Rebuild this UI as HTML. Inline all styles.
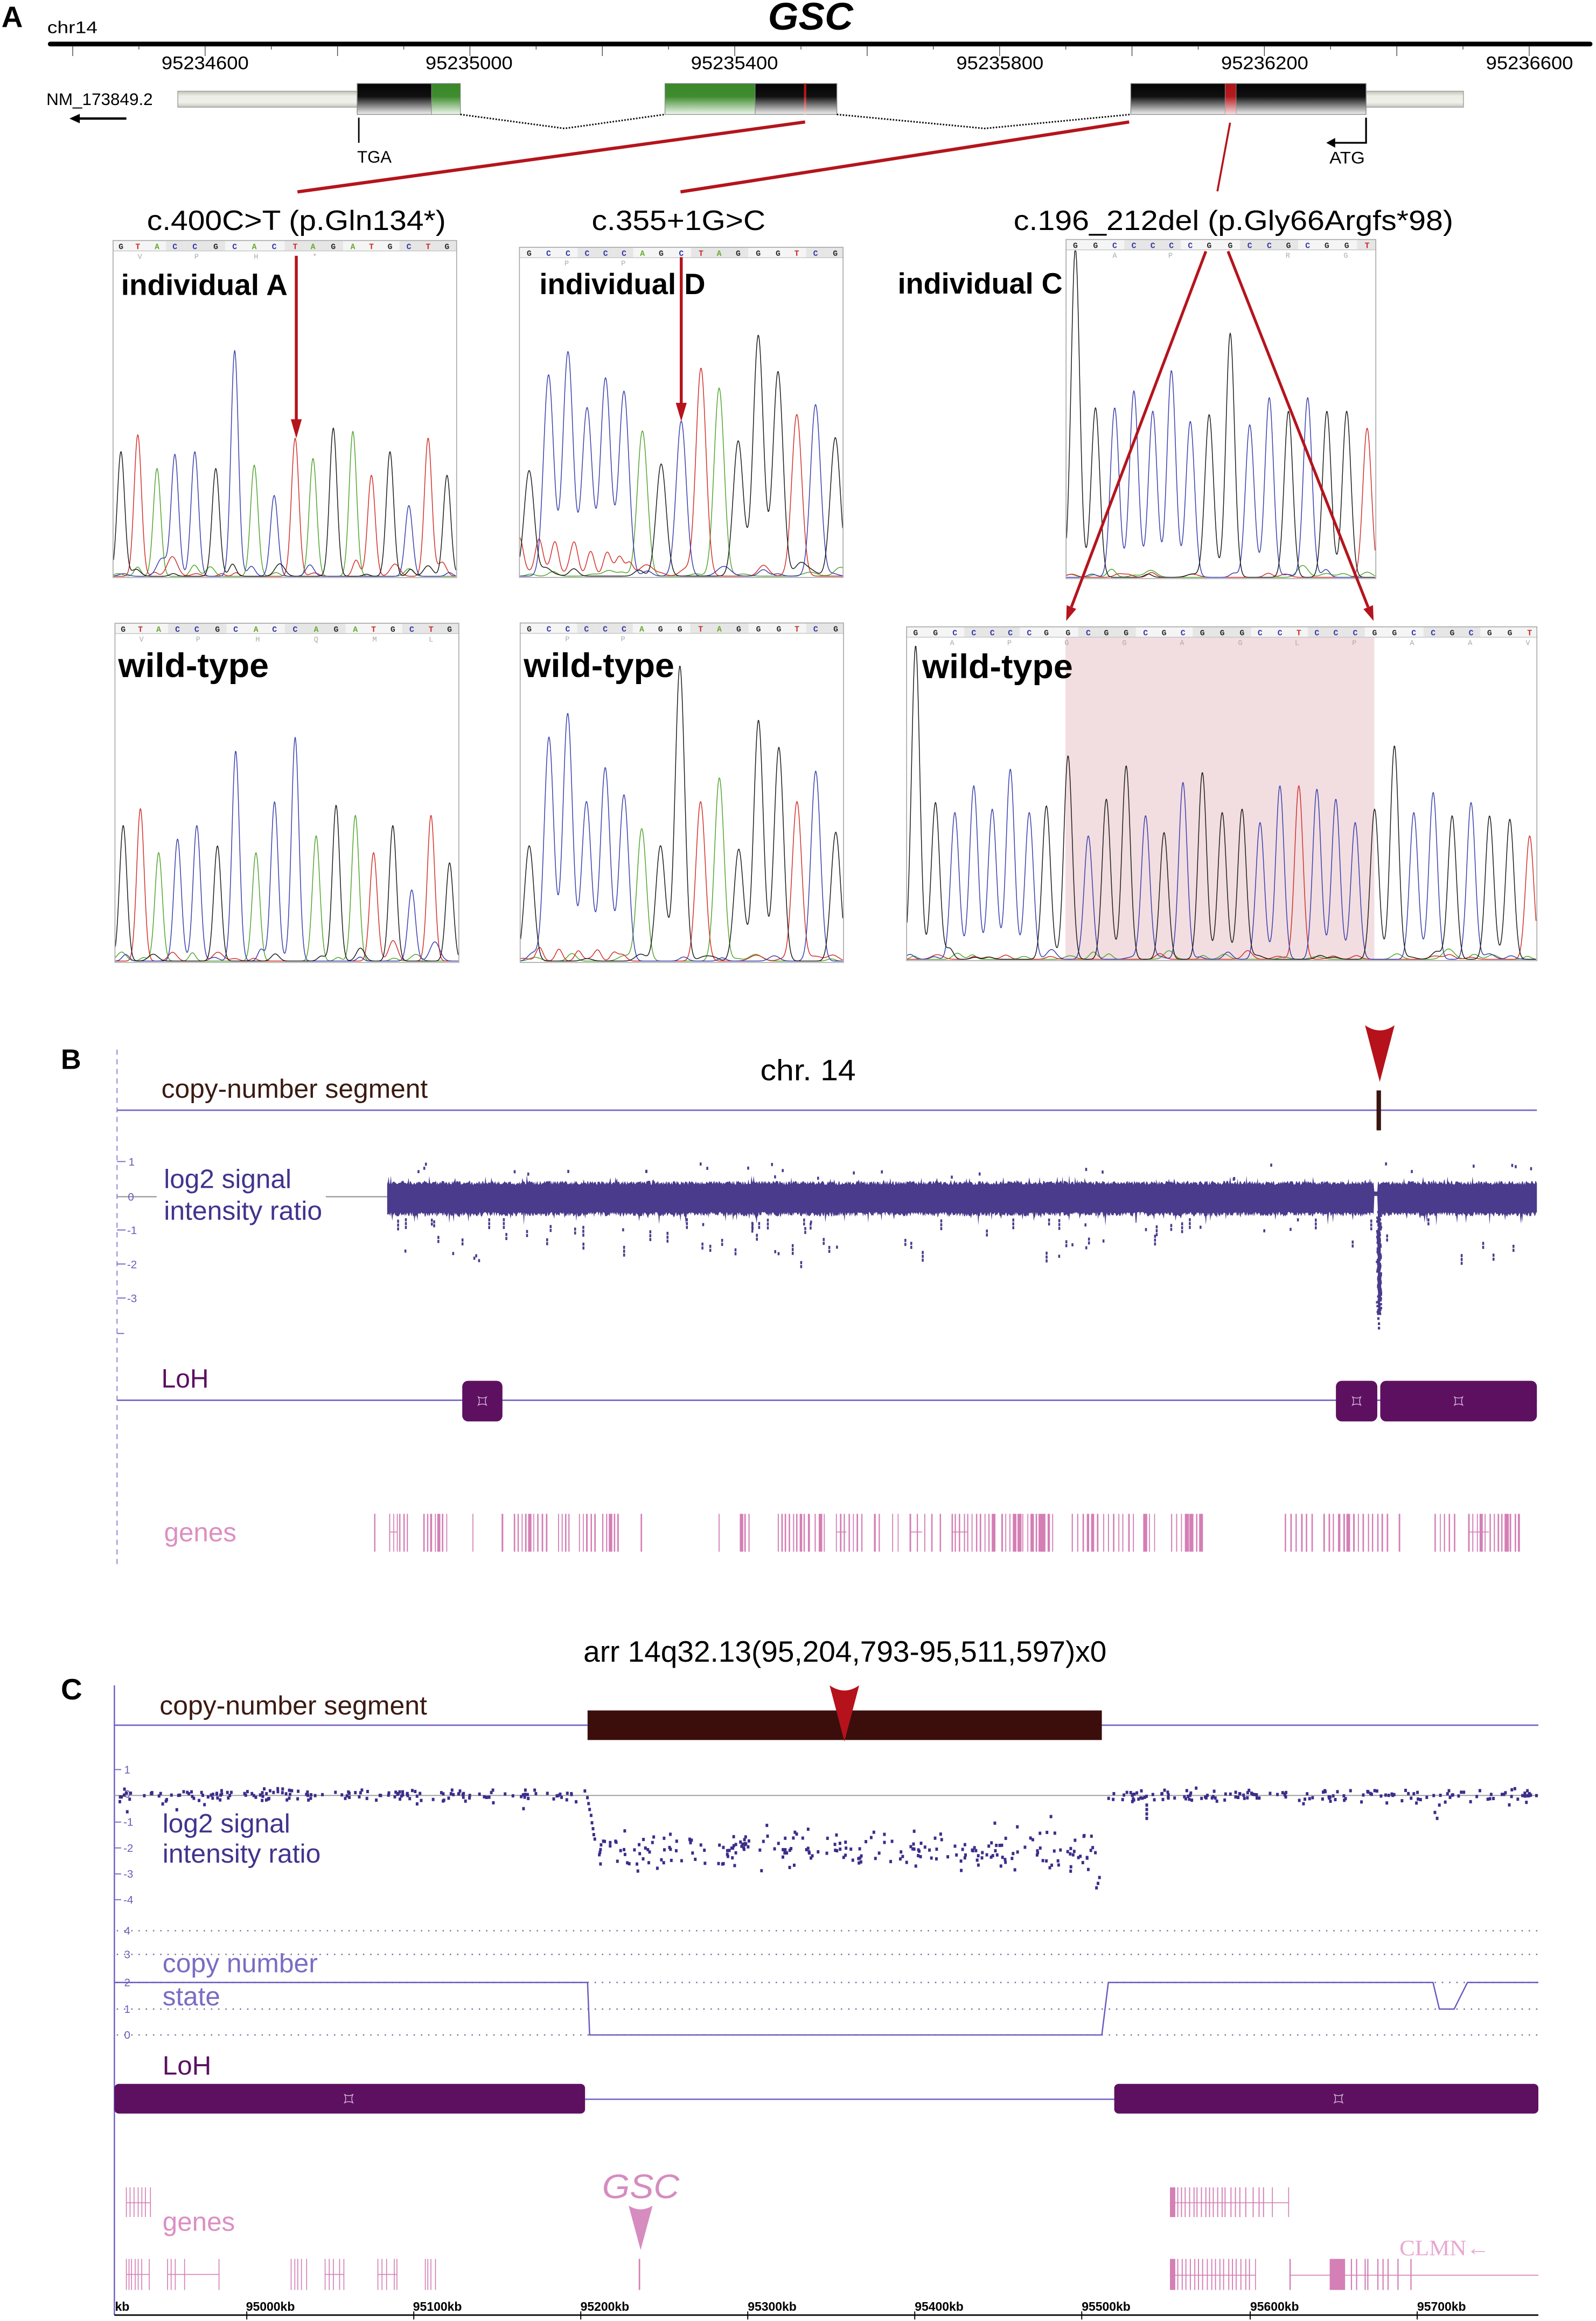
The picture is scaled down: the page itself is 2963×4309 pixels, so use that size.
<!DOCTYPE html>
<html><head><meta charset="utf-8"><style>
html,body{margin:0;padding:0;background:#fff;}
svg{display:block;}
text{font-family:"Liberation Sans",Arial,sans-serif;}
</style></head><body>
<svg id="s" xmlns="http://www.w3.org/2000/svg" width="2963" height="4309" viewBox="0 0 1080 1570" preserveAspectRatio="none">
<defs>
<linearGradient id="gBlk" x1="0" y1="0" x2="0" y2="1"><stop offset="0" stop-color="#050505"/><stop offset="0.42" stop-color="#101010"/><stop offset="1" stop-color="#f2f2f2"/></linearGradient>
<linearGradient id="gGrn" x1="0" y1="0" x2="0" y2="1"><stop offset="0" stop-color="#3a882a"/><stop offset="0.42" stop-color="#3e8c2e"/><stop offset="1" stop-color="#eef7ec"/></linearGradient>
<linearGradient id="gUtr" x1="0" y1="0" x2="0" y2="1"><stop offset="0" stop-color="#c2c2ba"/><stop offset="0.3" stop-color="#ededE6"/><stop offset="0.7" stop-color="#f1f1ec"/><stop offset="1" stop-color="#c6c6be"/></linearGradient>
<linearGradient id="gRed" x1="0" y1="0" x2="0" y2="1"><stop offset="0" stop-color="#ad1419"/><stop offset="0.42" stop-color="#b41a1f"/><stop offset="1" stop-color="#f7dfdf"/></linearGradient>
</defs>
<rect x="0" y="0" width="1080" height="1570" fill="#fff"/>

<!-- ========== PANEL A ========== -->
<text x="1" y="18.2" font-size="20" font-weight="bold">A</text>
<text x="32" y="22.5" font-size="11.5" textLength="34" lengthAdjust="spacingAndGlyphs">chr14</text>
<text x="519.7" y="20" font-size="26" font-weight="bold" font-style="italic" textLength="57.6" lengthAdjust="spacingAndGlyphs">GSC</text>
<line x1="34" y1="29.8" x2="1076" y2="29.8" stroke="#000" stroke-width="3.2" stroke-linecap="round"/>
<g id="ticksA" stroke="#444" stroke-width="0.5"></g>
<g font-size="12.5">
<text x="109.3" y="46.8" textLength="59" lengthAdjust="spacingAndGlyphs">95234600</text>
<text x="287.9" y="46.8" textLength="59" lengthAdjust="spacingAndGlyphs">95235000</text>
<text x="467.5" y="46.8" textLength="59" lengthAdjust="spacingAndGlyphs">95235400</text>
<text x="647.1" y="46.8" textLength="59" lengthAdjust="spacingAndGlyphs">95235800</text>
<text x="826.3" y="46.8" textLength="59" lengthAdjust="spacingAndGlyphs">95236200</text>
<text x="1005.5" y="46.8" textLength="59" lengthAdjust="spacingAndGlyphs">95236600</text>
</g>
<text x="31.4" y="71" font-size="11.5" textLength="72" lengthAdjust="spacingAndGlyphs">NM_173849.2</text>
<line x1="52" y1="80.2" x2="85.5" y2="80.2" stroke="#000" stroke-width="1.6"/>
<polygon points="47,80.2 54,77 54,83.4" fill="#000"/>
<!-- UTRs -->
<rect x="120.3" y="61.7" width="121.4" height="10.8" fill="url(#gUtr)" stroke="#999" stroke-width="0.5"/>
<rect x="924.4" y="61.7" width="65.9" height="10.8" fill="url(#gUtr)" stroke="#999" stroke-width="0.5"/>
<!-- exons -->
<rect x="241.7" y="56.5" width="69.8" height="20.9" fill="url(#gBlk)" stroke="#888" stroke-width="0.5"/>
<rect x="292" y="56.5" width="19.5" height="20.9" fill="url(#gGrn)" stroke="#888" stroke-width="0.4"/>
<rect x="450" y="56.5" width="116.3" height="20.9" fill="url(#gBlk)" stroke="#888" stroke-width="0.5"/>
<rect x="450" y="56.5" width="61" height="20.9" fill="url(#gGrn)" stroke="#888" stroke-width="0.4"/>
<rect x="544" y="56.5" width="1.6" height="20.9" fill="url(#gRed)"/>
<rect x="765.2" y="56.5" width="159.2" height="20.9" fill="url(#gBlk)" stroke="#888" stroke-width="0.5"/>
<rect x="829" y="56.5" width="7.5" height="20.9" fill="url(#gRed)" stroke="#999" stroke-width="0.3"/>
<path d="M311.5,77.4 L382,86.9 L450,77.4 M566.3,77.4 L666.3,86.9 L765.2,77.4" fill="none" stroke="#111" stroke-width="1.1" stroke-dasharray="1 1"/>
<line x1="242.8" y1="79.6" x2="242.8" y2="96.6" stroke="#000" stroke-width="1"/>
<text x="241.7" y="110" font-size="11.5" textLength="23.3" lengthAdjust="spacingAndGlyphs">TGA</text>
<path d="M924.4,79.6 L924.4,96.6 L902,96.6" fill="none" stroke="#000" stroke-width="1.2"/>
<polygon points="897.5,96.6 903.5,93.3 903.5,99.9" fill="#000"/>
<text x="899.6" y="110.6" font-size="11.5" textLength="24" lengthAdjust="spacingAndGlyphs">ATG</text>
<!-- red connectors -->
<g stroke="#b5141c" fill="none">
<line x1="544.8" y1="82.5" x2="201.3" y2="129.8" stroke-width="2.2"/>
<line x1="764.1" y1="82.5" x2="460.5" y2="129.8" stroke-width="2.2"/>
<line x1="832.4" y1="83" x2="823.8" y2="129.4" stroke-width="1.3"/>
</g>
<g font-size="19">
<text x="99.4" y="155.5" textLength="202.3" lengthAdjust="spacingAndGlyphs">c.400C&gt;T (p.Gln134*)</text>
<text x="400.4" y="155.5" textLength="117.6" lengthAdjust="spacingAndGlyphs">c.355+1G&gt;C</text>
<text x="685.9" y="155.5" textLength="297.5" lengthAdjust="spacingAndGlyphs">c.196_212del (p.Gly66Argfs*98)</text>
</g>
<!-- pink region in C wild-type -->
<rect x="721" y="431" width="209" height="218" fill="#f2dde1"/>
<g id="chroms"></g>
<g font-weight="bold">
<text x="81.9" y="199.5" font-size="20" textLength="112.7" lengthAdjust="spacingAndGlyphs">individual A</text>
<text x="365" y="199" font-size="20" textLength="112.3" lengthAdjust="spacingAndGlyphs">individual D</text>
<text x="607.5" y="198.5" font-size="20" textLength="111.5" lengthAdjust="spacingAndGlyphs">individual C</text>
<text x="80" y="458" font-size="23" textLength="101.9" lengthAdjust="spacingAndGlyphs">wild-type</text>
<text x="354.4" y="458" font-size="23" textLength="101.9" lengthAdjust="spacingAndGlyphs">wild-type</text>
<text x="624" y="458.7" font-size="23" textLength="102" lengthAdjust="spacingAndGlyphs">wild-type</text>
</g>
<!-- red arrows in chromatograms -->
<g fill="#b5141c" stroke="#b5141c">
<line x1="200.5" y1="173" x2="200.5" y2="285" stroke-width="2"/>
<polygon points="196.8,283.6 204.2,283.6 200.5,296.5" stroke="none"/>
<line x1="461" y1="174" x2="461" y2="274" stroke-width="2"/>
<polygon points="457.3,272.5 464.7,272.5 461,285" stroke="none"/>
<line x1="816" y1="170" x2="725" y2="410.6" stroke-width="1.9"/>
<polygon points="721.5,420 728.3,411.9 721.8,409.4" stroke="none"/>
<line x1="831" y1="170" x2="925.8" y2="410.7" stroke-width="1.9"/>
<polygon points="929.5,420 929.1,409.4 922.6,412" stroke="none"/>
</g>

<!-- ========== PANEL B ========== -->
<text x="41.2" y="723" font-size="19" font-weight="bold">B</text>
<line x1="79.2" y1="710" x2="79.2" y2="1058" stroke="#8e80d0" stroke-width="0.7" stroke-dasharray="3.5 3"/>
<text x="514.5" y="730.7" font-size="20" textLength="64.6" lengthAdjust="spacingAndGlyphs">chr. 14</text>
<text x="109.2" y="742.6" font-size="18" fill="#3a1a12" textLength="180.3" lengthAdjust="spacingAndGlyphs">copy-number segment</text>
<line x1="79.2" y1="751" x2="1040" y2="751" stroke="#7866c8" stroke-width="1"/>
<rect x="931.5" y="737.6" width="3" height="27" fill="#3a1510"/>
<path d="M923.7,693.5 Q933.7,700.5 943.7,693.5 L933.7,731.8 Z" fill="#b5121b"/>
<g stroke="#7a6ac6" stroke-width="0.7">
<line x1="79.2" y1="785.7" x2="85" y2="785.7"/>
<line x1="79.2" y1="832" x2="85" y2="832"/>
<line x1="79.2" y1="855" x2="85" y2="855"/>
<line x1="79.2" y1="878" x2="85" y2="878"/>
<line x1="79.2" y1="902" x2="84" y2="902"/>
</g>
<line x1="79.2" y1="809.5" x2="106" y2="809.5" stroke="#999" stroke-width="0.8"/>
<line x1="220.5" y1="809.5" x2="262" y2="809.5" stroke="#999" stroke-width="0.8"/>
<g font-size="7.5" fill="#6a5ab8">
<text x="87" y="788.5">1</text>
<text x="86.5" y="812.2">0</text>
<text x="86" y="834.8">-1</text>
<text x="86" y="857.8">-2</text>
<text x="86" y="880.8">-3</text>
</g>
<text x="110.9" y="803.6" font-size="18" fill="#40348e" textLength="86.3" lengthAdjust="spacingAndGlyphs">log2 signal</text>
<text x="110.9" y="825" font-size="18" fill="#40348e" textLength="107.1" lengthAdjust="spacingAndGlyphs">intensity ratio</text>
<g id="bandB" fill="#4a3b8c"></g>
<text x="109.2" y="938.5" font-size="18" fill="#5a1060" textLength="32" lengthAdjust="spacingAndGlyphs">LoH</text>
<line x1="79.2" y1="947.2" x2="1040" y2="947.2" stroke="#7866c8" stroke-width="1"/>
<g fill="#5e1060">
<rect x="312.8" y="934" width="27.2" height="27.5" rx="4"/>
<rect x="904" y="934" width="28" height="27.5" rx="4"/>
<rect x="934" y="934" width="106" height="27.5" rx="4"/>
</g>
<g id="starsB" fill="none" stroke="#e0d0e8" stroke-width="0.45"></g>
<text x="111" y="1042.6" font-size="18" fill="#dc8fc2" textLength="49" lengthAdjust="spacingAndGlyphs">genes</text>
<g id="genesB" fill="#d47fb5"></g>

<!-- ========== PANEL C ========== -->
<text x="394.8" y="1124" font-size="20" textLength="354" lengthAdjust="spacingAndGlyphs">arr 14q32.13(95,204,793-95,511,597)x0</text>
<text x="41.2" y="1149.5" font-size="20" font-weight="bold">C</text>
<line x1="77.4" y1="1140" x2="77.4" y2="1566" stroke="#7060c0" stroke-width="0.9"/>
<text x="108" y="1159.7" font-size="18" fill="#3a1a12" textLength="181" lengthAdjust="spacingAndGlyphs">copy-number segment</text>
<line x1="77.4" y1="1167" x2="397.6" y2="1167" stroke="#7866c8" stroke-width="1"/>
<line x1="745.6" y1="1167" x2="1041" y2="1167" stroke="#7866c8" stroke-width="1"/>
<rect x="397.6" y="1157" width="348" height="20" fill="#3b0e0b"/>
<path d="M561.4,1140 Q571.4,1147 581.4,1140 L571.4,1178 Z" fill="#b5121b"/>
<line x1="77.4" y1="1214.5" x2="1041" y2="1214.5" stroke="#9a9a9a" stroke-width="0.7"/>
<g stroke="#7a6ac6" stroke-width="0.7">
<line x1="77.4" y1="1197" x2="82" y2="1197"/>
<line x1="77.4" y1="1232.5" x2="82" y2="1232.5"/>
<line x1="77.4" y1="1250" x2="82" y2="1250"/>
<line x1="77.4" y1="1267.6" x2="82" y2="1267.6"/>
<line x1="77.4" y1="1285" x2="82" y2="1285"/>
</g>
<g font-size="7.5" fill="#6a5ab8">
<text x="84" y="1199.7">1</text>
<text x="84" y="1216">0</text>
<text x="83.5" y="1235">-1</text>
<text x="83.5" y="1252.6">-2</text>
<text x="83.5" y="1270.2">-3</text>
<text x="83.5" y="1287.6">-4</text>
<text x="84" y="1308.6">4</text>
<text x="84" y="1324.6">3</text>
<text x="84" y="1343.6">2</text>
<text x="84" y="1361.6">1</text>
<text x="84" y="1379">0</text>
</g>
<text x="110" y="1239.5" font-size="18" fill="#40348e" textLength="86.4" lengthAdjust="spacingAndGlyphs">log2 signal</text>
<text x="110" y="1260" font-size="18" fill="#40348e" textLength="107" lengthAdjust="spacingAndGlyphs">intensity ratio</text>
<g id="ptsC" fill="#3b2d8a"></g>
<g stroke="#6f6f98" stroke-width="0.9" stroke-dasharray="0.9 4">
<line x1="79" y1="1306" x2="1041" y2="1306"/>
<line x1="79" y1="1322" x2="1041" y2="1322"/>
<line x1="79" y1="1341" x2="1041" y2="1341"/>
<line x1="79" y1="1359" x2="1041" y2="1359"/>
<line x1="79" y1="1376.5" x2="1041" y2="1376.5"/>
</g>
<text x="110" y="1334" font-size="18" fill="#7b6cc4" textLength="105" lengthAdjust="spacingAndGlyphs">copy number</text>
<text x="110" y="1356.4" font-size="18" fill="#7b6cc4" textLength="39" lengthAdjust="spacingAndGlyphs">state</text>
<path d="M77.4,1341 L397.6,1341 L399,1376.5 L745.6,1376.5 L750,1341 L969.7,1341 L974,1359 L984,1359 L993,1341 L1041,1341" fill="none" stroke="#6a58c0" stroke-width="0.9"/>
<text x="110" y="1403.4" font-size="18" fill="#5a1060" textLength="33" lengthAdjust="spacingAndGlyphs">LoH</text>
<line x1="395.9" y1="1420" x2="754" y2="1420" stroke="#7866c8" stroke-width="1"/>
<g fill="#5e1060">
<rect x="77.4" y="1409.6" width="318.5" height="20.1" rx="3"/>
<rect x="754" y="1409.6" width="287" height="20.1" rx="3"/>
</g>
<g id="starsC" fill="none" stroke="#e0d0e8" stroke-width="0.45"></g>
<text x="110" y="1509" font-size="18" fill="#dc8fc2" textLength="49" lengthAdjust="spacingAndGlyphs">genes</text>
<text x="407.4" y="1487" font-size="23" font-style="italic" fill="#d68cbf" textLength="52.3" lengthAdjust="spacingAndGlyphs">GSC</text>
<path d="M425.4,1492 Q433.5,1497 441.6,1492 L433.5,1522 Z" fill="#d68cbf"/>
<text x="947" y="1525.5" font-size="15" fill="#e8a8cf" style="font-family:'Liberation Serif',serif" textLength="61" lengthAdjust="spacingAndGlyphs">CLMN←</text>
<g id="genesC" fill="#d47fb5" stroke="#d47fb5"></g>
<line x1="77.4" y1="1566" x2="1041" y2="1566" stroke="#000" stroke-width="1"/>
<g id="axC" stroke="#000" stroke-width="0.7"></g>
<g font-size="8.4" font-weight="bold">
<text x="77.8" y="1563">kb</text>
<text x="166.5" y="1563" textLength="33" lengthAdjust="spacingAndGlyphs">95000kb</text>
<text x="279.5" y="1563" textLength="33" lengthAdjust="spacingAndGlyphs">95100kb</text>
<text x="392.8" y="1563" textLength="33" lengthAdjust="spacingAndGlyphs">95200kb</text>
<text x="506" y="1563" textLength="33" lengthAdjust="spacingAndGlyphs">95300kb</text>
<text x="619" y="1563" textLength="33" lengthAdjust="spacingAndGlyphs">95400kb</text>
<text x="732" y="1563" textLength="33" lengthAdjust="spacingAndGlyphs">95500kb</text>
<text x="846" y="1563" textLength="33" lengthAdjust="spacingAndGlyphs">95600kb</text>
<text x="959" y="1563" textLength="33" lengthAdjust="spacingAndGlyphs">95700kb</text>
</g>
</svg>
<script>
(function(){
function R(seed){var s=seed>>>0;return function(){s=(Math.imul(s,1664525)+1013904223)>>>0;return s/4294967296;};}
function gauss(r){return Math.sqrt(-2*Math.log(r()+1e-9))*Math.cos(2*Math.PI*r());}
function f(v){return (Math.round(v*100)/100).toString();}
function put(id,s){document.getElementById(id).innerHTML=s;}

/* ticks panel A */
var s='';
for(var j=-2;j<=20;j++){var x=138.8+j*44.8;var y2=(j%2===0)?37.9:33.5;s+='<line x1="'+f(x)+'" y1="31.3" x2="'+f(x)+'" y2="'+y2+'"/>';}
put('ticksA',s);

/* chromatograms */
var TC={G:'#1c1c1c',A:'#52a52e',T:'#d2302a',C:'#3b3fae'};
var LC={G:'#2a2a2a',A:'#6aaa30',T:'#c92a26',C:'#3437a5'};
function chrom(o){
  var s='',r=R(o.seed),n=o.seq.length,hh=7,X0=o.x,Y0=o.y,W=o.w,H=o.h,bot=Y0+H-0.9,topLim=Y0+hh+0.6,i,b;
  var pos=o.pos;
  s+='<rect x="'+X0+'" y="'+Y0+'" width="'+W+'" height="'+hh+'" fill="#f5f5f5"/>';
  for(i=0;i<n;i++){
    var grp=Math.floor((i+(o.cod||0))/3);
    if(grp%2===1){
      var xa=X0+(i===0?0:(pos[i-1]+pos[i])/2*W), xb=X0+(i===n-1?W:(pos[i]+pos[i+1])/2*W);
      s+='<rect x="'+f(xa)+'" y="'+Y0+'" width="'+f(xb-xa)+'" height="'+hh+'" fill="#e6e6e6"/>';
    }
  }
  s+='<line x1="'+X0+'" y1="'+(Y0+hh)+'" x2="'+(X0+W)+'" y2="'+(Y0+hh)+'" stroke="#c4c4c4" stroke-width="0.5"/>';
  for(i=0;i<n;i++){
    s+='<text x="'+f(X0+pos[i]*W)+'" y="'+f(Y0+5.8)+'" font-size="5.4" font-weight="bold" text-anchor="middle" fill="'+LC[o.seq[i]]+'" style="font-family:\'Liberation Mono\',monospace">'+o.seq[i]+'</text>';
  }
  if(o.prot){for(i=0;i<o.prot.length;i++){
    s+='<text x="'+f(X0+o.prot[i][0]*W)+'" y="'+f(Y0+12.3)+'" font-size="5" text-anchor="middle" fill="'+(o.protCol||'#aaa')+'" style="font-family:\'Liberation Mono\',monospace">'+o.prot[i][1]+'</text>';
  }}
  var pk={G:[],A:[],T:[],C:[]};
  for(i=0;i<n;i++){
    pk[o.seq[i]].push([X0+pos[i]*W,o.hts[i]*H,o.sig]);
    var bs='GATC';
    for(var k=0;k<4;k++){b=bs[k];
      if(b!==o.seq[i]&&r()<0.4){pk[b].push([X0+pos[i]*W+(r()-0.5)*8,(0.006+r()*r()*(o.sec||0.06))*H,o.sig*(0.8+r()*0.6)]);}
    }
  }
  if(o.extra){for(i=0;i<o.extra.length;i++){var e=o.extra[i];pk[e[0]].push([X0+e[1]*W,e[2]*H,e[3]||o.sig]);}}
  var order=['A','T','C','G'];
  for(var q=0;q<4;q++){b=order[q];var d='';
    for(var X=X0+0.3;X<=X0+W-0.3;X+=0.4){
      var v=0,L=pk[b];
      for(var m=0;m<L.length;m++){var dx=X-L[m][0];if(dx>-5*L[m][2]&&dx<5*L[m][2])v+=L[m][1]*Math.exp(-dx*dx/(2*L[m][2]*L[m][2]));}
      var yy=bot-v; if(yy<topLim)yy=topLim;
      d+=(d?'L':'M')+f(X)+' '+f(yy);
    }
    s+='<path d="'+d+'" fill="none" stroke="'+TC[b]+'" stroke-width="0.55" stroke-linejoin="round"/>';
  }
  s+='<rect x="'+X0+'" y="'+Y0+'" width="'+W+'" height="'+H+'" fill="none" stroke="#a8a8a8" stroke-width="0.6"/>';
  return s;
}
function fr(arr,a,w){return arr.map(function(z){return (z-a)/w;});}
var out='';
out+=chrom({x:76.5,y:162.7,w:232.5,h:228,seed:11,sig:2.5,seq:'GTACCGCACTAGATGCTG',
 hts:[.37,.42,.32,.36,.37,.32,.67,.33,.24,.41,.35,.44,.43,.30,.37,.21,.41,.30],
 pos:[.023,.072,.128,.18,.238,.299,.354,.411,.469,.53,.582,.641,.698,.752,.806,.861,.917,.972],
 prot:[[.078,'V'],[.243,'P'],[.416,'H'],[.587,'*']],sec:0.08});
out+=chrom({x:77.8,y:421.6,w:232.7,h:229.4,seed:23,sig:2.5,seq:'GTACCGCACCAGATGCTG',
 hts:[.40,.45,.32,.36,.40,.34,.62,.32,.47,.66,.37,.46,.43,.32,.40,.21,.43,.29],
 pos:[.024,.074,.127,.182,.238,.298,.351,.41,.464,.524,.585,.643,.699,.752,.808,.863,.919,.973],
 prot:[[.077,'V'],[.242,'P'],[.415,'H'],[.585,'Q'],[.755,'M'],[.919,'L']],sec:0.07});
out+=chrom({x:351.5,y:167.3,w:219,h:223.3,seed:37,sig:3.4,seq:'GCCCCCAGCTAGGGTCG',
 hts:[.32,.61,.68,.51,.60,.56,.44,.34,.47,.63,.57,.41,.73,.62,.49,.52,.42],
 pos:[.03,.09,.15,.209,.266,.323,.38,.438,.5,.561,.617,.676,.738,.799,.857,.915,.976],
 prot:[[.146,'P'],[.321,'P']],sec:0.04,
 extra:[['T',0.0,.11,2.5],['T',.06,.1,2.5],['T',.11,.1,2.5],['T',.17,.08,2.5],['T',.22,.075,2.5],['T',.27,.06,2.5],['T',.31,.055,2.5],['T',.34,.04,2.5],['G',.08,.02,3]]});
out+=chrom({x:352,y:421.4,w:218.8,h:229.6,seed:41,sig:3.2,seq:'GCCCCCAGGTAGGGTCG',
 hts:[.34,.66,.73,.47,.57,.49,.39,.34,.87,.47,.54,.33,.71,.63,.47,.56,.38],
 pos:[.028,.089,.147,.205,.263,.321,.376,.434,.494,.558,.616,.676,.737,.8,.856,.914,.976],
 prot:[[.146,'P'],[.318,'P']],sec:0.03,
 extra:[['T',.06,.04,2.3],['T',.12,.035,2.3],['T',.18,.03,2.3],['T',.24,.03,2.3],['T',.29,.025,2.3]]});
out+=chrom({x:721.4,y:162,w:209.6,h:229.4,seed:53,sig:2.9,seq:'GGCCCCCGGCCGCGGT',
 hts:[.97,.50,.50,.55,.49,.61,.46,.48,.72,.45,.53,.49,.53,.49,.49,.44],
 pos:[.03,.095,.157,.219,.28,.34,.401,.462,.53,.593,.656,.718,.78,.842,.906,.972],
 prot:[[.157,'A'],[.337,'P'],[.716,'R'],[.903,'G']],sec:0.035});
var cwz=[60,104,147,189,230,270,312,350,398,443,483,527,570,611,653,696,740,784,824,868,910,950,992,1035,1078,1122,1165,1208,1250,1292,1333,1378,1422];
var pz=[[141,'A'],[268,'P'],[395,'G'],[523,'G'],[651,'A'],[780,'G'],[906,'L'],[1033,'P'],[1161,'A'],[1290,'A'],[1418,'V']];
out+=chrom({x:613.5,y:424,w:426.5,h:225.8,seed:67,sig:2.8,seq:'GGCCCCCGGCGGCGCGGGCCTCCCGGCCGCGGT',
 hts:[.94,.47,.44,.52,.45,.57,.44,.46,.61,.37,.48,.58,.43,.38,.53,.56,.44,.45,.41,.52,.52,.51,.48,.41,.45,.64,.44,.50,.43,.47,.43,.42,.37],
 pos:fr(cwz,40,1398),prot:pz.map(function(p){return [(p[0]-40)/1398,p[1]];}),sec:0.035});
put('chroms',out);

/* Panel B band */
var r=R(77),up=[],lo=[],x;
for(x=262;x<=1040;x+=0.5){
  var t=809.5-(8+r()*2.8+(r()<0.05?r()*5:0));
  var bb=809.5+(10.3+r()*3.2+(r()<0.07?r()*7:0));
  if(x>929.5&&x<932.5){t=806;bb=809;}
  up.push(f(x)+','+f(t));lo.push(f(x)+','+f(bb));
}
s='<path d="M'+up.join('L')+'L'+lo.reverse().join('L')+'Z"/>';
function rc(x,y,w,h){return '<rect x="'+f(x)+'" y="'+f(y)+'" width="'+f(w)+'" height="'+f(h)+'"/>';}
for(var i=0;i<70;i++){x=263+r()*776;var y=824+Math.pow(r(),2.2)*28;var nn=1+Math.floor(r()*3);for(var k2=0;k2<nn;k2++)s+=rc(x,y+k2*2.6,1.3,2.1);}
for(i=0;i<30;i++){x=263+r()*776;y=797-r()*11;s+=rc(x,y,1.3,2.1);}
var outl=[[541.5,853],[1010,848],[1023.5,842],[938,835],[356,832],[342,834],[488,838],[616,840],[612,838],[1003,840],[296,836],[480,842]];
for(i=0;i<outl.length;i++){s+=rc(outl[i][0],outl[i][1],1.3,2.1);s+=rc(outl[i][0],outl[i][1]+2.7,1.3,2.1);}
for(y=819;y<=889;y+=1.3){s+=rc(931+r()*1.6,y,2.8,1.6);}
s+=rc(932,891,1.5,1.8)+rc(932.4,894.5,1.5,1.8)+rc(932.4,897.5,1.5,1.8);
put('bandB',s);

/* stars */
function star(cx,cy){var a=2.8;return '<path d="M'+f(cx-a)+','+f(cy-a)+' Q'+cx+','+f(cy-a*0.45)+' '+f(cx+a)+','+f(cy-a)+' Q'+f(cx+a*0.45)+','+cy+' '+f(cx+a)+','+f(cy+a)+' Q'+cx+','+f(cy+a*0.45)+' '+f(cx-a)+','+f(cy+a)+' Q'+f(cx-a*0.45)+','+cy+' '+f(cx-a)+','+f(cy-a)+'Z"/>';}
put('starsB',star(326.4,947.7)+star(918,947.7)+star(987,947.7));
put('starsC',star(236,1419.6)+star(905.8,1419.6));

/* genes B */
var clB=[[253.6,253.6,1],[264,275.5,6],[286.7,302,7],[320,320,1],[340,340,1],[347.8,369.7,9],[378,385,4],[392,403,5],[408,418.6,5],[434,434,1],[486.6,486.6,1],[502,506.5,3],[526.7,547,9],[552,558,3],[566,583,7],[592,592,1],[595,595,1],[604,608,2],[616,636,5],[644,672,11],[678,712.5,13],[726,767,13],[775,781,3],[793,813,7],[870,888,6],[896,939,14],[947,947,1],[971,984,5],[994,1028,13]];
r=R(91);s='';
for(i=0;i<clB.length;i++){var c=clB[i];
  for(var k=0;k<c[2];k++){x=c[2]===1?c[0]:c[0]+(c[1]-c[0])*k/(c[2]-1)+(r()-0.5)*0.8;var w=0.6+(r()<0.25?r()*2.4:r()*0.5);s+=rc(x-w/2,1024,w,25.6);}
  if(c[2]>4&&r()<0.5){s+=rc(c[0],1036,(c[1]-c[0])*0.4,0.6);}
}
put('genesB',s);

/* points C */
r=R(99);s='';
function pt(x,y){s+=rc(x-0.9,y-1.1,1.8,2.2);}
for(i=0;i<170;i++){x=81+r()*315;y=1214.5+gauss(r)*2;if(r()<0.04)y+=5+r()*4;pt(x,y);}
var tr=[[397.5,1216],[398.3,1220],[399,1224],[400,1228],[400.6,1233],[401.3,1237],[401.8,1241],[402.5,1244]];
for(i=0;i<tr.length;i++)pt(tr[i][0],tr[i][1]);
for(i=0;i<240;i++){x=404+r()*340;y=1251.5+gauss(r)*7;if(y<1228)y=1228+r()*4;if(y>1283)y=1280;pt(x,y);}
pt(744,1270);pt(743,1274);pt(742,1277);
for(i=0;i<160;i++){x=750+r()*290;y=1214.5+gauss(r)*2.1;pt(x,y);}
var ex=[[776,1221],[776,1224],[776,1227],[776,1230],[971,1226],[972.5,1230],[974,1221],[978,1219]];
for(i=0;i<ex.length;i++)pt(ex[i][0],ex[i][1]);
put('ptsC',s);

/* genes C */
s='';
function vl(x,y1,y2,w){s+='<rect x="'+f(x-(w||0.6)/2)+'" y="'+f(y1)+'" width="'+f(w||0.6)+'" height="'+f(y2-y1)+'" stroke="none"/>';}
function hl(x1,x2,y){s+='<line x1="'+f(x1)+'" y1="'+f(y)+'" x2="'+f(x2)+'" y2="'+f(y)+'" stroke-width="0.6"/>';}
var U1=1479.6,U2=1499.7,L1=1528,L2=1549;
[85.5,88,90.7,93.5,96,98.4,101.8].forEach(function(x){vl(x,U1,U2);});hl(85.5,101.8,1490);
[797,799.5,802,805,808,810,813,816,818.5,821,824,827,829,833,836,839,843,848,852,855].forEach(function(x){vl(x,U1,U2,0.7);});
vl(793.5,U1,U2,3.6);vl(861,U1,U2);vl(872,U1,U2);hl(791.6,872,1490);
[85.5,87.3,89,91.5,93.5,95.9,101].forEach(function(x){vl(x,L1,L2);});hl(85.5,101,1538.5);
[113.4,115.8,118.6,124.9,148.2].forEach(function(x){vl(x,L1,L2);});hl(113.4,148.2,1538.5);
[197,199.5,201.5,204,207.5].forEach(function(x){vl(x,L1,L2);});
[220,222.8,225.6,229.8,232.7].forEach(function(x){vl(x,L1,L2);});hl(220,232.7,1538.5);
[255.7,258.5,261.6,266.8,268.6].forEach(function(x){vl(x,L1,L2);});hl(255.7,268.6,1538.5);
[287.8,289.5,291.6,294.7].forEach(function(x){vl(x,L1,L2);});
vl(432.7,L1,L2,1);
vl(793.5,L1,L2,3.6);
[797,800,802.5,805.5,808.5,811,813.8,817,820,822.5,825.5,828,831.5,834,836.5,839.7,843,845.5].forEach(function(x){vl(x,L1,L2,0.7);});
hl(791.6,849.6,1539);vl(849.6,L1,L2);vl(873,L1,L2,0.9);hl(873,1041,1539);
vl(905,L1,L2,10.4);
[914.5,918,923.8,925.6,932.4,935.9,939.3,946,954.8].forEach(function(x){vl(x,L1,L2,0.8);});
put('genesC',s);

/* axis ticks C */
s='';
[167,280,393,506,619,732,846,959].forEach(function(x){s+='<line x1="'+x+'" y1="1563.5" x2="'+x+'" y2="1569"/>';});
put('axC',s);
})();
</script>
</body></html>
